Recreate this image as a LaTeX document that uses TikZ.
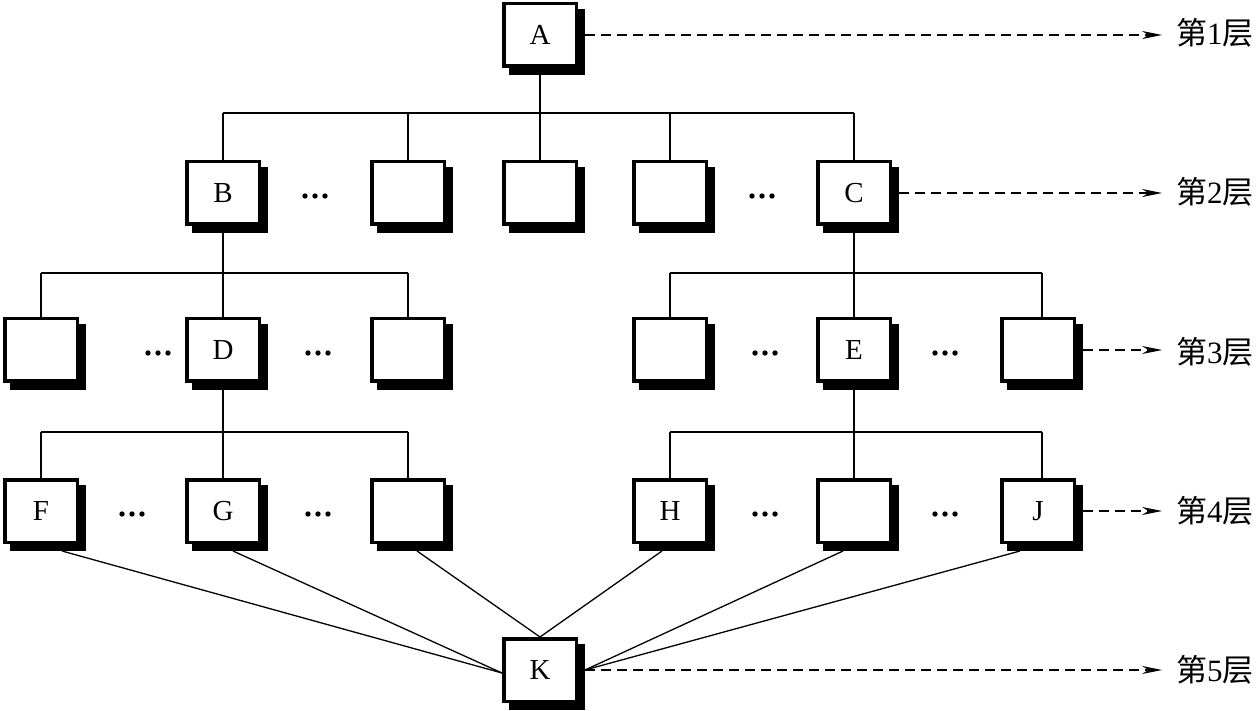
\documentclass[tikz,border=0pt]{standalone}
\usepackage{fontspec}
\setmainfont{Liberation Serif}
\newfontfamily\cjk{Noto Sans CJK SC}
\usetikzlibrary{shadows,arrows.meta}
\begin{document}
\begin{tikzpicture}[x=1pt,y=-1pt,
  box/.style={draw, line width=3.5pt, fill=white, minimum width=72.5pt, minimum height=62.5pt, inner sep=0pt,
    font=\fontsize{29}{31}\selectfont,
    general shadow={fill=black, draw=black, line width=3.5pt, shadow xshift=7pt, shadow yshift=-7pt}},
  conn/.style={line width=1.3pt},
  dasharrow/.style={line width=1.3pt, dash pattern=on 10pt off 6pt, -{Stealth[length=20pt,width=8pt]}},
  lab/.style={anchor=west, inner xsep=14pt, inner ysep=0pt, font=\fontsize{31}{33}\selectfont},
  dot/.style={fill=black}
]
\useasboundingbox (0,0) rectangle (1259,711);
\coordinate (bus1) at (0,113);
\coordinate (bus2) at (0,273);
\coordinate (bus3) at (0,432);
% row 1
\node[box] (A) at (540,35) {A};
% row 2
\node[box] (B) at (223,193) {B};
\node[box] (b2) at (408,193) {};
\node[box] (b3) at (540,193) {};
\node[box] (b4) at (670,193) {};
\node[box] (C) at (854,193) {C};
% row 3
\node[box] (L1) at (41,350) {};
\node[box] (D) at (223,350) {D};
\node[box] (L3) at (408,350) {};
\node[box] (R1) at (670,350) {};
\node[box] (E) at (854,350) {E};
\node[box] (R3) at (1038,350) {};
% row 4
\node[box] (F) at (41,511) {F};
\node[box] (G) at (223,511) {G};
\node[box] (L4) at (408,511) {};
\node[box] (H) at (670,511) {H};
\node[box] (R4) at (854,511) {};
\node[box] (J) at (1038,511) {J};
% row 5
\node[box] (K) at (540,670) {K};
% dots
\foreach \x/\y in {315/196, 762/196, 158/353, 318/353, 765/353, 945/353, 132/514, 318/514, 765/514, 945/514}
  \fill[dot] (\x-10,\y) circle (2.7pt) (\x,\y) circle (2.7pt) (\x+10,\y) circle (2.7pt);
% tree connectors
\draw[conn] (A.south) -- (A.south |- bus1);
\draw[conn] (B.north |- bus1) -- (C.north |- bus1);
\foreach \n in {B,b2,b3,b4,C} \draw[conn] (\n.north) -- (\n.north |- bus1);
\draw[conn] (B.south) -- (B.south |- bus2);
\draw[conn] (L1.north |- bus2) -- (L3.north |- bus2);
\foreach \n in {L1,D,L3} \draw[conn] (\n.north) -- (\n.north |- bus2);
\draw[conn] (C.south) -- (C.south |- bus2);
\draw[conn] (R1.north |- bus2) -- ([xshift=4pt]R3.north |- bus2);
\foreach \n in {R1,E} \draw[conn] (\n.north) -- (\n.north |- bus2);
\draw[conn] ([xshift=4pt]R3.north) -- ([xshift=4pt]R3.north |- bus2);
\draw[conn] (D.south) -- (D.south |- bus3);
\draw[conn] (F.north |- bus3) -- (L4.north |- bus3);
\foreach \n in {F,G,L4} \draw[conn] (\n.north) -- (\n.north |- bus3);
\draw[conn] (E.south) -- (E.south |- bus3);
\draw[conn] (H.north |- bus3) -- ([xshift=4pt]J.north |- bus3);
\foreach \n in {H,R4} \draw[conn] (\n.north) -- (\n.north |- bus3);
\draw[conn] ([xshift=4pt]J.north) -- ([xshift=4pt]J.north |- bus3);
% lines to K
\draw[conn] ([xshift=21pt,yshift=-7pt]F.south) -- ([yshift=-3pt]K.west);
\draw[conn] ([xshift=10pt,yshift=-7pt]G.south) -- ([yshift=-3pt]K.west);
\draw[conn] ([xshift=9pt,yshift=-7pt]L4.south) -- (K.north);
\draw[conn] ([xshift=-8pt,yshift=-7pt]H.south) -- (K.north);
\draw[conn] ([xshift=-11pt,yshift=-7pt]R4.south) -- ([xshift=7pt]K.east);
\draw[conn] ([xshift=-18pt,yshift=-7pt]J.south) -- ([xshift=7pt]K.east);
% level labels
\node[lab] (l1) at (1162,33) {{\cjk 第}1{\cjk 层}};
\node[lab] (l2) at (1162,192) {{\cjk 第}2{\cjk 层}};
\node[lab] (l3) at (1162,352) {{\cjk 第}3{\cjk 层}};
\node[lab] (l4) at (1162,511) {{\cjk 第}4{\cjk 层}};
\node[lab] (l5) at (1162,670) {{\cjk 第}5{\cjk 层}};
\draw[dasharrow] ([xshift=7pt]A.east) -- (l1.west |- A.east);
\draw[dasharrow] ([xshift=7pt]C.east) -- (l2.west |- C.east);
\draw[dasharrow] ([xshift=7pt]R3.east) -- (l3.west |- R3.east);
\draw[dasharrow] ([xshift=7pt]J.east) -- (l4.west |- J.east);
\draw[dasharrow] ([xshift=7pt]K.east) -- (l5.west |- K.east);
\end{tikzpicture}
\end{document}
